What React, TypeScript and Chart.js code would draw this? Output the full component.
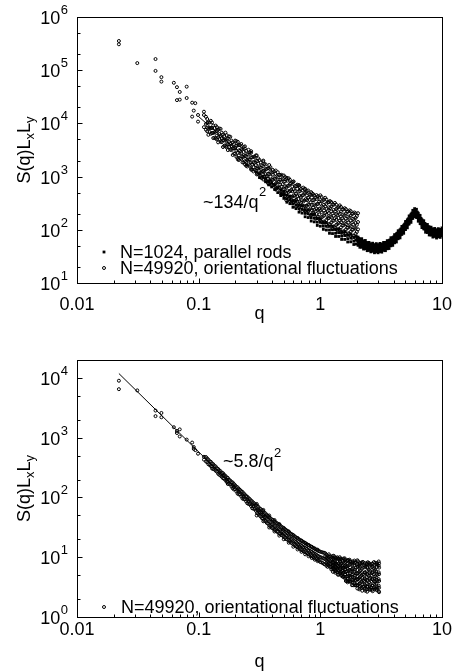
import React, { useEffect, useRef } from "react";
import { Chart, registerables } from "chart.js";

Chart.register(...registerables);

const FONT = '"Liberation Sans", Arial, Helvetica, sans-serif';

// ---------- axes / ticks ----------
const xTicks = [0.01, 0.1, 1, 10];
const xTickLabels = ["0.01", "0.1", "1", "10"];
const xMinorSteps = [2, 3, 4, 5, 6, 7, 8, 9];
const yMinorSteps = [2, 5];
const topYTicks = [1e1, 1e2, 1e3, 1e4, 1e5, 1e6];
const topYExps = ["1", "2", "3", "4", "5", "6"];
const bottomYTicks = [1e0, 1e1, 1e2, 1e3, 1e4];
const bottomYExps = ["0", "1", "2", "3", "4"];

// ---------- data: [q, S(q)LxLy values at that q] ----------
type Group = [number, number[]][];

const rodsTop: Group = [
  [0.249, [1650]], [0.2985, [1220]], [0.3162, [1110, 960]], [0.335, [1010]],
  [0.3548, [920, 800]], [0.3758, [820, 700]], [0.3981, [760, 640]], [0.4217, [690, 570]],
  [0.4467, [620, 500]], [0.4732, [560, 480, 440]], [0.5012, [530, 460, 390]], [0.5309, [450, 380, 330]],
  [0.5623, [430, 365, 310]], [0.5957, [355, 305, 265]], [0.631, [345, 295, 250]], [0.6683, [290, 248, 215]],
  [0.7079, [285, 243, 206]], [0.7499, [238, 203, 176]], [0.7943, [234, 200, 170]], [0.8414, [197, 168, 146]],
  [0.8913, [194, 166, 141]], [0.9441, [163, 139, 121]], [1.0, [161, 138, 117]], [1.059, [137, 117, 102]],
  [1.122, [137, 117, 99]], [1.189, [117, 99, 86]], [1.259, [117, 100, 85]], [1.334, [101, 86, 75]],
  [1.413, [103, 88, 75]], [1.496, [89, 76, 66]], [1.585, [91, 78, 66]], [1.679, [80, 68, 59]],
  [1.778, [82, 70, 59.5]], [1.884, [72, 61, 53]], [1.972, [75, 64, 54]],
  [2.042, [73, 65, 58, 51]], [2.113, [67, 59, 52, 47]], [2.188, [68, 60, 53, 47]], [2.265, [61, 54, 48, 43.5]],
  [2.344, [63, 55, 49, 44]], [2.427, [57, 51, 45, 40.5]], [2.512, [58, 52, 46, 41]], [2.6, [54, 48, 43, 38.5]],
  [2.692, [56, 50, 44, 39.5]], [2.786, [52, 46, 41, 37]], [2.884, [55, 48.5, 43, 38.5]], [2.985, [52, 46, 41, 37]],
  [3.09, [55.5, 49.5, 44, 39]], [3.199, [53.5, 47, 42, 38]], [3.311, [58, 52, 46, 41]], [3.428, [57, 51, 45, 40.5]],
  [3.548, [62.5, 55.5, 49.5, 44]], [3.673, [63, 56, 50, 44.5]], [3.802, [71, 63, 56, 50]], [3.936, [71, 63, 56, 51]],
  [4.074, [81, 72, 64, 57]], [4.217, [84, 74, 66, 59]], [4.365, [96, 85, 76, 68]], [4.519, [100, 88, 78, 70.5]],
  [4.677, [116, 104, 92, 82]], [4.842, [122, 108, 96, 86]], [5.012, [143, 127, 113, 101]], [5.188, [154, 136, 121, 109]],
  [5.37, [182, 162, 144, 129]], [5.559, [196, 173, 154, 138]], [5.754, [232, 207, 183, 164]], [5.957, [250, 220, 196, 176]],
  [6.166, [243, 216, 192, 171]], [6.383, [205, 181, 161, 145]], [6.607, [186, 165, 147, 131]], [6.839, [155, 137, 122, 110]],
  [7.079, [148, 131, 117, 104]], [7.328, [128, 113, 101, 90]], [7.586, [126, 112, 100, 89]], [7.852, [113, 100, 89, 80]],
  [8.128, [112, 100, 89, 79.5]], [8.414, [103, 91, 81, 73]], [8.71, [106, 94, 84, 75]], [9.016, [99, 88, 78, 70]],
  [9.333, [105, 93, 83, 74]], [9.661, [101, 90, 80, 72]], [10.0, [108, 97, 86, 77]],
  [2.077, [68, 61, 54]], [2.15, [65, 58, 51]], [2.226, [62, 56, 49]], [2.304, [60, 54, 47]],
  [2.385, [58, 51, 45.5]], [2.469, [56, 50, 44]], [2.556, [54.5, 48.5, 43]], [2.646, [53, 47.5, 42]],
  [2.738, [52, 46.5, 41]], [2.835, [51.5, 46, 40.5]], [2.934, [51.5, 46, 40.5]], [3.037, [52, 46.5, 41]],
  [3.144, [52.5, 47, 41.5]], [3.254, [54, 48, 42.5]], [3.369, [56, 50, 44]], [3.487, [58, 51.5, 45.5]],
  [3.61, [60.5, 54, 48]], [3.736, [64.5, 57.5, 51]], [3.868, [68.5, 61, 54]], [4.004, [73.5, 65.5, 58]],
  [4.145, [79.5, 71, 63]], [4.291, [86.5, 77, 68]], [4.441, [94, 84, 74.5]], [4.597, [104, 93, 82]],
  [4.759, [115, 103, 91]], [4.926, [128, 114, 101]], [5.099, [143, 128, 113]], [5.278, [161, 144, 127]],
  [5.464, [182, 163, 144]], [5.656, [206, 184, 163]], [5.855, [232, 207, 183]], [6.061, [237, 212, 188]],
  [6.274, [215, 192, 170]], [6.494, [188, 168, 149]], [6.722, [164, 146, 129]], [6.959, [146, 130, 115]],
  [7.203, [132, 118, 104]], [7.456, [122, 109, 97]], [7.718, [115, 103, 91]], [7.989, [109, 97, 86]],
  [8.27, [104, 93, 82]], [8.561, [101, 90, 80]], [8.862, [99, 88, 78]], [9.173, [98.5, 88, 78]],
  [9.496, [99.5, 89, 79]], [9.83, [101, 90.5, 80]],
];

const orientTop: Group = [
  [0.0221, [354000, 307000]], [0.0313, [136000]], [0.0442, [162000, 97000]], [0.0494, [74000, 61000]],
  [0.0625, [58000]], [0.0663, [48000, 27400]], [0.0699, [39000, 28000]], [0.0797, [49000, 30000]],
  [0.0884, [24500, 13400]], [0.0911, [17400]], [0.0938, [24000]], [0.0988, [14400, 10800]],
  [0.1105, [16600, 14400, 8500]],
  [0.1148, [13300, 9800, 7600]], [0.1202, [10500, 8100, 6100]], [0.1259, [11200, 8200, 6400]], [0.1318, [9100, 6600, 5300]],
  [0.138, [9100, 7100, 5200]], [0.1445, [7600, 5500, 4400]], [0.1514, [7900, 5800, 4500]], [0.1585, [6200, 4800, 3600]],
  [0.166, [6700, 4900, 3700]], [0.1738, [5200, 4050, 3150]], [0.182, [5600, 4100, 3200]], [0.1905, [4400, 3400, 2550]],
  [0.1995, [4750, 3450, 2700]], [0.2089, [3850, 2800, 2250]], [0.2188, [3900, 3050, 2200]], [0.2291, [3250, 2350, 1850]],
  [0.2399, [3350, 2450, 1950]], [0.2512, [2650, 2050, 1550]], [0.263, [2850, 2100, 1620]], [0.2754, [2300, 1680, 1350]],
  [0.2884, [2350, 1830, 1340]], [0.302, [1960, 1430, 1140]], [0.3162, [2050, 1500, 1170]], [0.3311, [1610, 1240, 940]],
  [0.3467, [1730, 1270, 990]], [0.3631, [1400, 1020, 810]], [0.3802, [1420, 1110, 820]], [0.3981, [1190, 870, 690]],
  [0.4169, [1250, 920, 700]], [0.4365, [1000, 770, 600]], [0.4571, [1080, 800, 620]], [0.4786, [880, 650, 505]],
  [0.5012, [1050, 800, 580, 450]], [0.5248, [890, 630, 490, 360]], [0.5495, [930, 670, 515, 380]], [0.5754, [750, 560, 410, 320]],
  [0.6026, [810, 580, 445, 330]], [0.631, [660, 470, 365, 268]], [0.6607, [690, 520, 378, 295]], [0.6918, [585, 415, 322, 238]],
  [0.7244, [620, 450, 342, 252]], [0.7586, [505, 378, 278, 215]], [0.7943, [548, 396, 302, 223]], [0.8318, [455, 325, 252, 184]],
  [0.871, [470, 360, 260, 203]], [0.912, [402, 286, 222, 162]], [0.955, [428, 308, 236, 173]], [1.0, [445, 310, 230, 153]],
  [1.047, [356, 262, 178, 135]], [1.096, [400, 277, 206, 138]], [1.148, [330, 226, 165, 117]], [1.202, [346, 255, 178, 127]],
  [1.259, [295, 203, 148, 105]], [1.318, [320, 222, 165, 110]], [1.38, [256, 188, 128, 98]], [1.445, [288, 200, 148, 99]],
  [1.514, [240, 165, 120, 85]], [1.585, [255, 188, 131, 93]], [1.66, [218, 150, 109, 78]], [1.738, [232, 171, 120, 85]],
  [1.82, [199, 137, 100, 71]], [1.905, [212, 156, 109, 77]], [1.995, [181, 124, 91, 65]], [2.04, [205, 140, 102, 70]],
  [0.1175, [12100, 10200, 8300, 7100]], [0.123, [10400, 8200, 6900]], [0.1288, [10400, 8200, 6600]], [0.1349, [8200, 6800, 5350]],
  [0.1413, [8500, 7200, 5900, 5000]], [0.1479, [8000, 6300, 5100]], [0.1549, [6700, 5300, 4450]], [0.1622, [5800, 4800, 3800]],
  [0.1698, [6000, 5100, 4150, 3550]], [0.1778, [5700, 4450, 3600]], [0.1862, [4750, 3750, 3150]], [0.195, [4100, 3400, 2700]],
  [0.2042, [4650, 3800, 3050, 2350]], [0.2138, [3950, 3100, 2500, 2050]], [0.2239, [4100, 3300, 2700, 2150]], [0.2344, [3600, 2900, 2350, 1850]],
  [0.2455, [3050, 2400, 1900, 1600]], [0.257, [3200, 2600, 2100, 1700]], [0.2692, [2800, 2300, 1850, 1420]], [0.2818, [2350, 1880, 1500, 1250]],
  [0.2951, [2500, 2000, 1650, 1300]], [0.309, [2200, 1750, 1420, 1100]], [0.3236, [1850, 1470, 1160, 960]], [0.3388, [1930, 1560, 1280, 1000]],
  [0.3548, [1700, 1380, 1110, 860]], [0.3715, [1440, 1130, 900, 750]], [0.389, [1500, 1230, 1000, 790]], [0.4074, [1330, 1090, 870, 680]],
  [0.4266, [1130, 900, 720, 590]], [0.4467, [1210, 970, 800, 630]], [0.4677, [1070, 870, 700, 545]], [0.4898, [910, 720, 575, 475]],
  [0.5129, [980, 810, 660, 520, 430]], [0.537, [840, 665, 545, 435]], [0.5623, [870, 730, 535, 420, 350]], [0.5888, [785, 650, 530, 418, 345]],
  [0.6166, [670, 535, 435, 350]], [0.6457, [705, 590, 430, 340, 282]], [0.6761, [640, 532, 436, 340, 280]], [0.7079, [550, 440, 360, 290]],
  [0.7413, [585, 490, 357, 282, 233]], [0.7762, [530, 442, 362, 283, 234]], [0.8128, [458, 366, 298, 240]], [0.8511, [484, 405, 296, 234, 194]],
  [0.8913, [440, 366, 300, 235, 193]], [0.9333, [380, 302, 248, 198]], [0.9772, [402, 336, 246, 195, 160]], [1.023, [415, 342, 273, 215, 171, 142]],
  [1.072, [370, 296, 231, 185, 143]], [1.122, [372, 307, 245, 193, 153, 127]], [1.175, [331, 265, 207, 166, 128]], [1.23, [333, 274, 220, 172, 137, 114]],
  [1.288, [296, 237, 185, 148, 115]], [1.349, [298, 245, 196, 154, 123, 102]], [1.413, [267, 214, 167, 134, 104]], [1.479, [269, 221, 177, 139, 111, 92]],
  [1.549, [242, 193, 151, 121, 94]], [1.622, [245, 202, 161, 127, 101, 84]], [1.698, [221, 177, 138, 110, 86]], [1.778, [224, 185, 148, 116, 92, 77]],
  [1.862, [202, 161, 126, 101, 78]], [1.95, [204, 168, 134, 106, 84, 70]],
  [0.21, [4500, 2100]], [0.24, [3700, 1700]], [0.27, [3000, 1350]], [0.3, [2500, 1100]],
  [0.34, [2000, 880]], [0.38, [1650, 720]], [0.43, [1300, 570]], [0.48, [1080, 460]],
  [0.53, [950, 390]], [0.6, [800, 320]], [0.67, [690, 265]], [0.75, [590, 225]],
  [0.84, [510, 190]], [0.93, [450, 165]],
];

const orientBottom: Group = [
  [0.0221, [9000, 6500]], [0.0313, [6200]], [0.0442, [2850, 2300]], [0.0494, [2600, 2200]],
  [0.0625, [1500]], [0.0663, [1300, 1200]], [0.0699, [1380, 1050]], [0.0797, [930]],
  [0.0884, [830]], [0.0911, [700, 650]], [0.0938, [620]], [0.0988, [540]], [0.1105, [480, 430]],
  [0.1148, [475, 400]], [0.1202, [430, 360]], [0.1259, [395, 335]], [0.1318, [360, 300]],
  [0.138, [330, 280]], [0.1445, [300, 250]], [0.1514, [275, 232]], [0.1585, [255, 235, 210]],
  [0.166, [230, 195]], [0.1738, [212, 183, 168]], [0.182, [192, 165]], [0.1905, [178, 160, 142]],
  [0.1995, [160, 138]], [0.2089, [148, 132, 116]], [0.2188, [134, 112]], [0.2291, [124, 110, 96]],
  [0.2399, [112, 93]], [0.2512, [103, 91, 80]], [0.263, [94, 77]], [0.2754, [86, 76, 66]],
  [0.2884, [79, 64]], [0.302, [73, 63, 55]], [0.3162, [66, 57, 50]], [0.3311, [61, 52, 45]],
  [0.3467, [56, 47, 41]], [0.3631, [51, 44, 37.5]], [0.3802, [47, 40, 34]], [0.3981, [43, 36, 31]],
  [0.4169, [40, 34, 29]], [0.4365, [37.5, 31, 27]], [0.4571, [35, 29.5, 25]], [0.4786, [32.5, 27, 23.5]],
  [0.5012, [30, 25.5, 22]], [0.5248, [28.5, 23.5, 20]], [0.5495, [26.5, 22, 19]], [0.5754, [24.5, 20.5, 17.5]],
  [0.6026, [23, 19, 16.3]], [0.631, [21.5, 18, 15.2]], [0.6607, [20.2, 16.6, 14.3]], [0.6918, [19, 15.9, 13.4]],
  [0.7244, [18, 14.8, 12.6]], [0.7586, [17, 14.2, 12]], [0.7943, [16.1, 13.2, 11.3]], [0.8318, [15.2, 12.6, 10.7]],
  [0.871, [14.4, 11.8, 10.1]], [0.912, [13.6, 11.3, 9.5]], [0.955, [12.9, 10.5, 9.0]], [1.0, [12.4, 10.0, 8.3]],
  [1.047, [12.0, 9.6, 8.0]],
  [0.1175, [450, 390]], [0.123, [405, 350]], [0.1288, [372, 330, 305]], [0.1349, [340, 295]],
  [0.1413, [310, 270]], [0.1479, [285, 262, 240]], [0.1549, [258, 222]], [0.1622, [240, 205]],
  [0.1698, [218, 198, 182]], [0.1778, [198, 170]], [0.1862, [182, 152]], [0.195, [168, 150, 136]],
  [0.2042, [152, 126]], [0.2138, [140, 125, 113]], [0.2239, [128, 104]], [0.2344, [117, 104, 94]],
  [0.2455, [106, 86]], [0.257, [98, 87, 78]], [0.2692, [89, 72]], [0.2818, [82, 72, 65]],
  [0.2951, [75, 60]], [0.309, [70, 61, 53]], [0.3236, [64, 56, 48]], [0.3388, [59, 51, 44]],
  [0.3548, [54, 47, 40]], [0.3715, [49, 42.5, 36.5]], [0.389, [45, 38.5, 33]], [0.4074, [42, 35.5, 30.5]],
  [0.4266, [39, 33, 28.5]], [0.4467, [36.5, 30.5, 26.5]], [0.4677, [34, 28.5, 24.5]], [0.4898, [31.5, 26.5, 23]],
  [0.5129, [29.5, 24.5, 21]], [0.537, [27.5, 23, 19.8]], [0.5623, [25.5, 21.5, 18.3]], [0.5888, [24, 20, 17]],
  [0.6166, [22.3, 18.5, 15.8]], [0.6457, [21, 17.3, 14.8]], [0.6761, [19.7, 16.4, 13.9]], [0.7079, [18.6, 15.4, 13.1]],
  [0.7413, [17.6, 14.6, 12.3]], [0.7762, [16.6, 13.8, 11.7]], [0.8128, [15.7, 13, 11]], [0.8511, [14.8, 12.3, 10.4]],
  [0.8913, [14, 11.6, 9.8]], [0.9333, [13.3, 10.9, 9.3]], [0.9772, [12.6, 10.3, 8.8]], [1.023, [12.2, 9.9, 8.2]],
  [1.072, [11.9, 9.5, 7.7]],
  [0.3, [78, 50]], [0.34, [62, 40]], [0.38, [50, 31.5]], [0.42, [42, 27]], [0.46, [36, 23]],
  [0.5, [31, 20]], [0.55, [27, 17.5]], [0.6, [23.5, 15]], [0.65, [21, 13.5]], [0.7, [19, 12.3]],
  [0.75, [17.3, 11.2]], [0.8, [16, 10.4]], [0.85, [15, 9.7]], [0.9, [14, 9.1]], [0.95, [13.4, 8.6]],
  [1.096, [11.7, 10.4, 9.3, 7.6]], [1.122, [11.1, 9.9, 8.9, 8.0, 7.2]], [1.148, [10.6, 9.5, 8.5, 7.6, 6.9]], [1.175, [11.2, 10.1, 9.0, 8.0, 7.2]],
  [1.202, [10.4, 8.6, 7.7, 6.9]], [1.23, [10.1, 8.9, 7.8, 6.9, 6.25]], [1.259, [10.5, 9.2, 8.1, 7.1, 6.3]], [1.288, [10.6, 9.4, 8.2, 7.2, 6.3]],
  [1.318, [10.0, 8.6, 7.5, 6.5, 5.8]], [1.349, [9.7, 7.7, 6.8, 5.9]], [1.38, [10.0, 8.6, 7.5, 6.5, 5.6]], [1.413, [9.2, 7.9, 6.8, 5.9, 5.15]],
  [1.445, [10.0, 8.7, 7.4, 6.35, 5.45]], [1.479, [9.3, 7.8, 6.7, 5.7, 4.95]], [1.514, [9.1, 7.0, 5.9, 5.0]], [1.549, [9.5, 7.9, 6.6, 5.6, 4.7]],
  [1.585, [9.6, 8.1, 6.7, 5.6, 4.7]], [1.622, [8.4, 6.9, 5.7, 4.7, 4.0]], [1.66, [8.7, 7.0, 5.8, 4.8, 4.0]], [1.698, [9.0, 7.3, 6.0, 4.8, 4.0]],
  [1.738, [9.1, 7.5, 6.1, 4.9, 4.0]], [1.778, [8.2, 5.8, 4.7, 3.9]], [1.82, [7.9, 6.3, 5.1, 4.1, 3.4]], [1.862, [8.2, 6.5, 5.2, 4.2, 3.4]],
  [1.905, [8.8, 7.2, 5.7, 4.5, 3.65]], [1.95, [8.4, 6.7, 5.3, 4.2, 3.4]], [1.995, [7.7, 5.4, 4.3, 3.4]], [2.042, [8.55, 6.9, 5.4, 4.3, 3.4]],
  [2.089, [7.3, 5.7, 4.5, 3.6, 2.9]], [2.138, [7.7, 6.0, 4.7, 3.7, 3.0]], [2.188, [8.2, 6.4, 5.0, 3.9, 3.1]], [2.239, [8.35, 6.7, 5.2, 4.1, 3.2]],
  [2.291, [7.4, 5.1, 4.0, 3.2]], [2.344, [7.1, 5.5, 4.3, 3.4, 2.75]], [2.399, [7.6, 5.8, 4.6, 3.6, 2.9]], [2.455, [8.25, 6.6, 5.1, 4.0, 3.2]],
  [2.512, [8.0, 6.2, 4.9, 3.8, 3.0]], [2.57, [7.5, 5.9, 4.5, 3.5, 2.85]], [2.63, [7.4, 5.0, 4.0, 3.1]], [2.692, [7.0, 5.6, 4.3, 3.35, 2.7]],
  [2.754, [8.3, 6.5, 5.2, 4.0, 3.15]], [2.818, [8.1, 6.2, 4.8, 3.85, 3.0]], [2.884, [7.6, 5.8, 4.6, 3.6, 2.9]], [2.951, [7.5, 5.1, 4.0, 3.1]],
  [3.02, [8.5, 7.2, 5.6, 4.3, 3.35, 2.7]],
  [1.27, [9.8, 8.4, 7.4, 6.6, 5.7]], [1.33, [9.4, 8.0, 7.1, 6.2, 5.5]], [1.395, [9.6, 7.1, 6.1, 5.1]], [1.46, [9.5, 8.3, 7.0, 5.8, 5.2]],
  [1.53, [8.7, 7.4, 6.6, 5.4, 4.7]], [1.6, [9.1, 7.2, 6.3, 5.2, 4.4]], [1.675, [8.9, 7.8, 6.4, 5.3, 4.3, 3.8]], [1.755, [8.6, 6.8, 5.4, 4.6, 3.9]],
  [1.84, [8.5, 7.5, 6.0, 4.7, 3.8]], [1.925, [8.1, 6.2, 4.9, 4.1, 3.4]], [2.015, [8.9, 7.3, 6.1, 4.7, 3.7, 3.0]], [2.11, [8.0, 6.9, 5.3, 4.2, 3.3]],
  [2.21, [7.9, 5.6, 4.5, 3.5, 2.75]], [2.315, [8.0, 6.8, 5.6, 4.4, 3.5, 2.95]], [2.425, [7.9, 6.9, 5.3, 4.2, 3.2, 2.65]], [2.54, [7.6, 5.6, 4.4, 3.3, 2.9]],
  [2.66, [7.8, 6.8, 5.4, 4.3, 3.35, 2.85]], [2.785, [7.5, 5.9, 4.4, 3.6, 2.9]], [2.915, [8.0, 6.9, 5.3, 4.2, 3.25, 2.8]], [3.04, [7.9, 6.7, 5.2, 4.0, 3.1, 2.6]],
];

// fitted power laws (end points of the drawn segments)
const fitTop: [number, number][] = [[0.1, 13400], [0.4, 837]];
const fitBottom: [number, number][] = [[0.0221, 11875], [0.35, 47.3]];

const toPoints = (g: Group) => g.flatMap(([q, ss]) => ss.map((s) => ({ x: q, y: s })));

// ---------- drawing helpers ----------
function drawPow(ctx: CanvasRenderingContext2D, exp: string, rightX: number, baseY: number) {
  ctx.font = `13px ${FONT}`;
  const we = ctx.measureText(exp).width;
  ctx.font = `18px ${FONT}`;
  const wb = ctx.measureText("10").width;
  const x0 = rightX - we - wb - 0.5;
  ctx.textAlign = "left";
  ctx.fillText("10", x0, baseY);
  ctx.font = `13px ${FONT}`;
  ctx.fillText(exp, x0 + wb + 0.5, baseY - 10);
}

type PanelCfg = {
  top: number;
  h: number;
  padding: { left: number; right: number; top: number; bottom: number };
  yMin: number;
  yMax: number;
  yTicks: number[];
  yExps: string[];
  xLabelBase: number;
  qBase: number;
  legend: { marker: "rect" | "circle"; text: string; base: number; x: number }[];
  note: { main: string; x: number; base: number; supBase: number };
  datasets: any[];
};

function makeDecor(cfg: PanelCfg) {
  return {
    id: "decor",
    afterDraw(chart: any) {
      const { ctx, chartArea: a, scales } = chart;
      const xs = scales.x;
      const ys = scales.y;
      const L = Math.round(a.left);
      const R = Math.round(a.right);
      const T = Math.round(a.top);
      const B = Math.round(a.bottom);
      ctx.save();
      ctx.strokeStyle = "#000";
      ctx.fillStyle = "#000";
      ctx.lineWidth = 1;
      ctx.strokeRect(L + 0.5, T + 0.5, R - L, B - T);

      ctx.beginPath();
      for (let i = 0; i < xTicks.length; i++) {
        const px = Math.round(xs.getPixelForValue(xTicks[i])) + 0.5;
        ctx.moveTo(px, B + 0.5);
        ctx.lineTo(px, B + 0.5 - 5);
        if (i < xTicks.length - 1) {
          for (const m of xMinorSteps) {
            const p = Math.round(xs.getPixelForValue(xTicks[i] * m)) + 0.5;
            ctx.moveTo(p, B + 0.5);
            ctx.lineTo(p, B + 0.5 - 3);
          }
        }
      }
      for (let i = 0; i < cfg.yTicks.length; i++) {
        const py = Math.round(ys.getPixelForValue(cfg.yTicks[i])) + 0.5;
        ctx.moveTo(L + 0.5, py);
        ctx.lineTo(L + 0.5 + 5, py);
        for (const m of yMinorSteps) {
          const v = cfg.yTicks[i] * m;
          if (v > cfg.yMax) continue;
          const p = Math.round(ys.getPixelForValue(v)) + 0.5;
          ctx.moveTo(L + 0.5, p);
          ctx.lineTo(L + 0.5 + 3, p);
        }
      }
      ctx.stroke();

      ctx.font = `18px ${FONT}`;
      ctx.textAlign = "center";
      ctx.textBaseline = "alphabetic";
      xTicks.forEach((v, i) => {
        ctx.fillText(xTickLabels[i], xs.getPixelForValue(v), cfg.xLabelBase);
      });
      cfg.yTicks.forEach((v, i) => {
        const py = ys.getPixelForValue(v);
        drawPow(ctx, cfg.yExps[i], L - 9, py + 7);
      });

      ctx.font = `18px ${FONT}`;
      ctx.textAlign = "center";
      ctx.fillText("q", (a.left + a.right) / 2, cfg.qBase);

      ctx.save();
      ctx.translate(30, (a.top + a.bottom) / 2);
      ctx.rotate(-Math.PI / 2);
      const parts: [string, boolean][] = [["S(q)L", false], ["x", true], ["L", false], ["y", true]];
      let total = 0;
      for (const [s, sub] of parts) {
        ctx.font = `${sub ? 13 : 18}px ${FONT}`;
        total += ctx.measureText(s).width;
      }
      let cx = -total / 2;
      ctx.textAlign = "left";
      for (const [s, sub] of parts) {
        ctx.font = `${sub ? 13 : 18}px ${FONT}`;
        ctx.fillText(s, cx, sub ? 4 : 0);
        cx += ctx.measureText(s).width;
      }
      ctx.restore();

      ctx.font = `18px ${FONT}`;
      ctx.textAlign = "left";
      ctx.fillText(cfg.note.main, cfg.note.x, cfg.note.base);
      const wm = ctx.measureText(cfg.note.main).width;
      ctx.font = `13px ${FONT}`;
      ctx.fillText("2", cfg.note.x + wm + 0.5, cfg.note.supBase);

      for (const it of cfg.legend) {
        const my = it.base - 6;
        if (it.marker === "rect") {
          ctx.fillStyle = "#000";
          ctx.fillRect(104 - 1.4, my - 1.4, 2.8, 2.8);
        } else {
          ctx.beginPath();
          ctx.arc(104, my, 1.5, 0, Math.PI * 2);
          ctx.lineWidth = 1;
          ctx.stroke();
          ctx.fillStyle = "#000";
        }
        ctx.font = `18px ${FONT}`;
        ctx.textAlign = "left";
        ctx.fillText(it.text, it.x, it.base);
      }
      ctx.restore();
    },
  };
}

const rodsStyle = {
  pointStyle: "rect",
  pointRadius: 2,
  backgroundColor: "#000",
  borderWidth: 0,
  borderColor: "#000",
};
const orientStyle = {
  pointStyle: "circle",
  pointRadius: 1.5,
  backgroundColor: "rgba(0,0,0,0)",
  borderColor: "#000",
  borderWidth: 1,
};
const fitStyle = {
  showLine: true,
  borderColor: "#000",
  borderWidth: 1,
  pointRadius: 0,
  fill: false,
};

const topCfg: PanelCfg = {
  top: 0,
  h: 336,
  padding: { left: 77, right: 14, top: 17, bottom: 53 },
  yMin: 10,
  yMax: 1e6,
  yTicks: topYTicks,
  yExps: topYExps,
  xLabelBase: 309.5,
  qBase: 319,
  legend: [
    { marker: "rect", text: "N=1024, parallel rods", base: 258, x: 120 },
    { marker: "circle", text: "N=49920, orientational fluctuations", base: 274, x: 120 },
  ],
  note: { main: "~134/q", x: 203, base: 208, supBase: 196 },
  datasets: [
    { label: "N=1024, parallel rods", data: toPoints(rodsTop), ...rodsStyle },
    { label: "N=49920, orientational fluctuations", data: toPoints(orientTop), ...orientStyle },
    { label: "fit", data: fitTop.map(([x, y]) => ({ x, y })), ...fitStyle },
  ],
};

const bottomCfg: PanelCfg = {
  top: 336,
  h: 336,
  padding: { left: 77, right: 14, top: 24, bottom: 55 },
  yMin: 1,
  yMax: 20000,
  yTicks: bottomYTicks,
  yExps: bottomYExps,
  xLabelBase: 299,
  qBase: 331,
  legend: [{ marker: "circle", text: "N=49920, orientational fluctuations", base: 277, x: 121 }],
  note: { main: "~5.8/q", x: 223, base: 131, supBase: 121 },
  datasets: [
    { label: "N=49920, orientational fluctuations", data: toPoints(orientBottom), ...orientStyle },
    { label: "fit", data: fitBottom.map(([x, y]) => ({ x, y })), ...fitStyle },
  ],
};

function Panel({ cfg }: { cfg: PanelCfg }) {
  const ref = useRef<HTMLCanvasElement | null>(null);
  useEffect(() => {
    if (!ref.current) return;
    const chart = new Chart(ref.current, {
      type: "scatter",
      data: { datasets: cfg.datasets },
      options: {
        animation: false,
        responsive: false,
        maintainAspectRatio: false,
        events: [],
        layout: { padding: cfg.padding },
        plugins: { legend: { display: false }, tooltip: { enabled: false } },
        scales: {
          x: { type: "logarithmic", min: 0.01, max: 10, display: false },
          y: { type: "logarithmic", min: cfg.yMin, max: cfg.yMax, display: false },
        },
      } as any,
      plugins: [makeDecor(cfg)],
    });
    return () => chart.destroy();
  }, [cfg]);
  return (
    <canvas
      ref={ref}
      width={456}
      height={cfg.h}
      style={{ position: "absolute", left: 0, top: cfg.top, width: 456, height: cfg.h }}
    />
  );
}

export default function App() {
  return (
    <div style={{ position: "absolute", left: 0, top: 0, width: 456, height: 672, background: "#fff" }}>
      <Panel cfg={topCfg} />
      <Panel cfg={bottomCfg} />
    </div>
  );
}
